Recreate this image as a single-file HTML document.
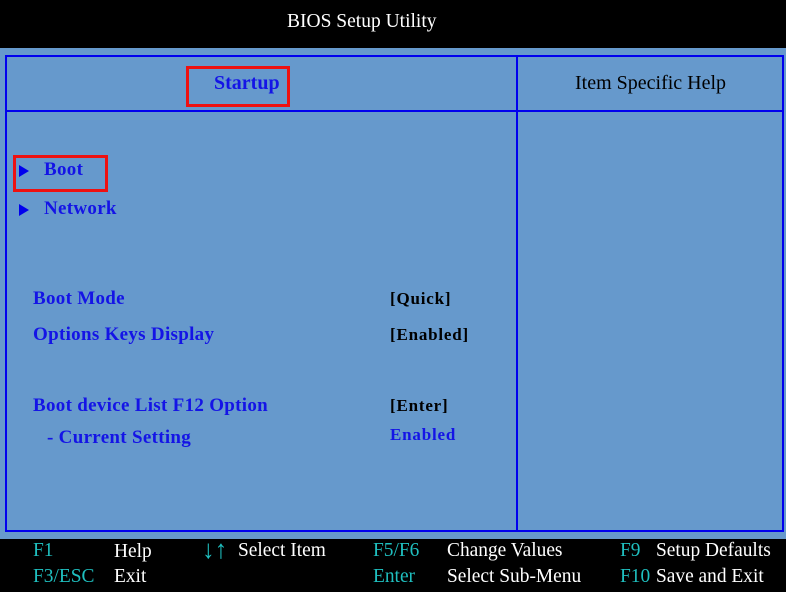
<!DOCTYPE html>
<html><head><style>
body{margin:0;width:786px;height:592px;overflow:hidden;background:#6699cc;font-family:"Liberation Serif",serif;position:relative}
.a{position:absolute;white-space:nowrap}
.top{left:0;top:0;width:786px;height:48px;background:#000}
.bot{left:0;top:539px;width:786px;height:53px;background:#000}
.b{font-weight:bold;color:#1414e6;font-size:19px;letter-spacing:.3px}
.v{font-weight:bold;color:#000;font-size:17px;letter-spacing:.8px}
.c{color:#1fbfbf;font-size:20px;transform:scaleX(.97);transform-origin:0 0}
.w{color:#fff;font-size:20px;transform:scaleX(.97);transform-origin:0 0}
.tri{width:0;height:0;border-left:10px solid #0000ee;border-top:6px solid transparent;border-bottom:6px solid transparent}
.red{border:3px solid #ee1111;box-sizing:border-box}
</style></head><body>
<div class="a top"></div>
<div class="a" style="left:287px;top:11px;color:#fff;font-size:19.5px">BIOS Setup Utility</div>
<div class="a" style="left:5px;top:55px;width:779px;height:477px;border:2px solid #0000ee;box-sizing:border-box"></div>
<div class="a" style="left:516px;top:56px;width:2px;height:475px;background:#0000ee"></div>
<div class="a" style="left:6px;top:110px;width:777px;height:2px;background:#0000ee"></div>
<div class="a red" style="left:186px;top:66px;width:104px;height:41px"></div>
<div class="a b" style="left:214px;top:72px;font-size:20px;letter-spacing:0">Startup</div>
<div class="a" style="left:575px;top:72px;font-size:20px;color:#000">Item Specific Help</div>
<div class="a red" style="left:13px;top:155px;width:95px;height:37px"></div>
<div class="a tri" style="left:19px;top:165px"></div>
<div class="a b" style="left:44px;top:159px">Boot</div>
<div class="a tri" style="left:19px;top:204px"></div>
<div class="a b" style="left:44px;top:198px">Network</div>
<div class="a b" style="left:33px;top:288px">Boot Mode</div>
<div class="a b" style="left:33px;top:324px">Options Keys Display</div>
<div class="a b" style="left:33px;top:395px">Boot device List F12 Option</div>
<div class="a b" style="left:47px;top:427px">- Current Setting</div>
<div class="a v" style="left:390px;top:289px">[Quick]</div>
<div class="a v" style="left:390px;top:325px">[Enabled]</div>
<div class="a v" style="left:390px;top:396px">[Enter]</div>
<div class="a v" style="left:390px;top:425px;color:#1414e6">Enabled</div>
<div class="a bot"></div>
<div class="a c" style="left:33px;top:539px">F1</div>
<div class="a w" style="left:114px;top:540px">Help</div>
<div class="a c" style="left:202px;top:535px;font-size:26px;font-weight:bold">↓↑</div>
<div class="a w" style="left:238px;top:539px">Select Item</div>
<div class="a c" style="left:373px;top:539px">F5/F6</div>
<div class="a w" style="left:447px;top:539px">Change Values</div>
<div class="a c" style="left:620px;top:539px">F9</div>
<div class="a w" style="left:656px;top:539px">Setup Defaults</div>
<div class="a c" style="left:33px;top:565px">F3/ESC</div>
<div class="a w" style="left:114px;top:565px">Exit</div>
<div class="a c" style="left:373px;top:565px">Enter</div>
<div class="a w" style="left:447px;top:565px">Select Sub-Menu</div>
<div class="a c" style="left:620px;top:565px">F10</div>
<div class="a w" style="left:656px;top:565px">Save and Exit</div>
</body></html>
